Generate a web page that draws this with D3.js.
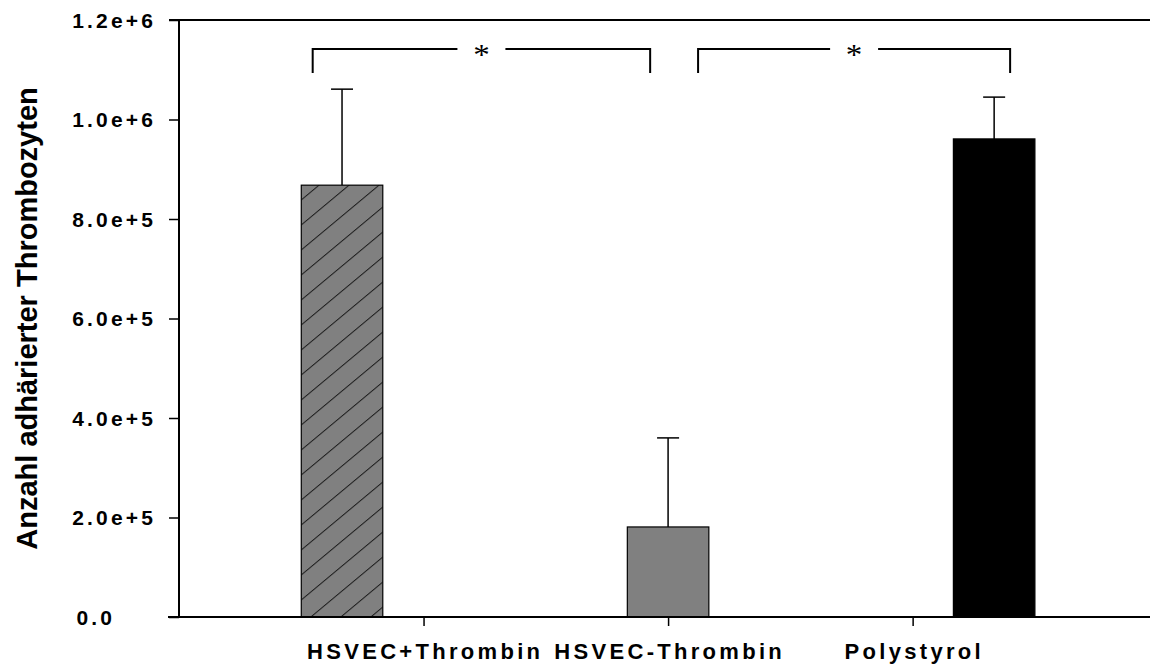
<!DOCTYPE html>
<html>
<head>
<meta charset="utf-8">
<script src="https://cdn.jsdelivr.net/npm/d3@7"></script>
<style>
  html, body { margin: 0; padding: 0; background: #fff; }
  text { font-family: "Liberation Sans", Arial, sans-serif; font-weight: bold; fill: #000; }
</style>
</head>
<body>
<div id="chart"></div>
<script>
// data
const categories = ["HSVEC+Thrombin", "HSVEC-Thrombin", "Polystyrol"];
const barPos = [1, 2, 3];
const labelPos = [1.25, 2, 2.75];
const means = [868000, 181000, 961000];
const errors = [193000, 179000, 84000];
const yTicks = [0, 200000, 400000, 600000, 800000, 1000000, 1200000];
const yTickLabels = ["0.0", "2.0e+5", "4.0e+5", "6.0e+5", "8.0e+5", "1.0e+6", "1.2e+6"];
// significance brackets: [from, to] in bar units, y of bar and of legs
const bracketFrom = [0.91, 2.092];
const bracketTo = [1.945, 3.049];
const bracketTop = [1141700, 1141700];
const bracketLeg = [1093400, 1093400];
const bracketLabel = ["*", "*"];

const barFills = ["url(#hatch)", "#808080", "#000000"];

const width = 1154, height = 665;
const svg = d3.select("#chart").append("svg")
    .attr("width", width)
    .attr("height", height);

const x = d3.scaleLinear().domain([0.5, 3.478]).range([179, 1150]);
const y = d3.scaleLinear().domain([0, 1200000]).range([617, 20]);
const barW = x(1.25) - x(1);

// hatch pattern for first bar
const defs = svg.append("defs");
const pat = defs.append("pattern")
    .attr("id", "hatch")
    .attr("patternUnits", "userSpaceOnUse")
    .attr("x", x(1) - barW / 2)
    .attr("y", 0)
    .attr("width", 30)
    .attr("height", 25);
pat.append("rect").attr("width", 30).attr("height", 25).attr("fill", "#808080");
pat.append("path")
    .attr("d", "M0,25L30,0M-3,2.5L3,-2.5M27,27.5L33,22.5")
    .attr("stroke", "#000")
    .attr("stroke-width", 1);

// error bars (only upper half drawn)
svg.selectAll("line.err")
    .data(means)
    .enter().append("line")
    .attr("class", "err")
    .attr("x1", (d, i) => x(barPos[i]))
    .attr("x2", (d, i) => x(barPos[i]))
    .attr("y1", d => y(d))
    .attr("y2", (d, i) => y(d + errors[i]))
    .attr("stroke", "#000")
    .attr("stroke-width", 1.5);

svg.selectAll("line.cap")
    .data(means)
    .enter().append("line")
    .attr("class", "cap")
    .attr("x1", (d, i) => x(barPos[i]) - 11)
    .attr("x2", (d, i) => x(barPos[i]) + 11)
    .attr("y1", (d, i) => y(d + errors[i]))
    .attr("y2", (d, i) => y(d + errors[i]))
    .attr("stroke", "#000")
    .attr("stroke-width", 1.5);

// bars
svg.selectAll("rect.bar")
    .data(means)
    .enter().append("rect")
    .attr("class", "bar")
    .attr("x", (d, i) => x(barPos[i]) - barW / 2)
    .attr("y", d => y(d))
    .attr("width", barW)
    .attr("height", d => y(0) - y(d))
    .attr("fill", (d, i) => barFills[i])
    .attr("stroke", "#000")
    .attr("stroke-width", 1.2);

// y axis
const yAxis = svg.append("g")
    .attr("transform", `translate(${x(0.5)},0)`)
    .call(d3.axisLeft(y).tickValues(yTicks).tickSize(10).tickFormat(""));
yAxis.select(".domain").attr("stroke-width", 2).attr("d", `M-10,${y(1200000)}H0V${y(0)}`);
yAxis.selectAll(".tick line").attr("stroke-width", 1.5);

// tick labels are spaced out in the original
const yLs = 3.2;
svg.selectAll("text.ylab")
    .data(yTicks)
    .enter().append("text")
    .attr("class", "ylab")
    .attr("x", d => (d === 0 ? 112 : 153) + yLs)
    .attr("y", d => y(d) + 7.5)
    .attr("text-anchor", "end")
    .style("font-size", "21px")
    .style("letter-spacing", yLs + "px")
    .text((d, i) => yTickLabels[i]);

// top frame line and x axis
svg.append("line")
    .attr("x1", x(0.5) - 10).attr("x2", x.range()[1])
    .attr("y1", y(1200000)).attr("y2", y(1200000))
    .attr("stroke", "#000").attr("stroke-width", 2);

const xAxis = svg.append("g")
    .attr("transform", `translate(0,${y(0)})`)
    .call(d3.axisBottom(x).tickValues(labelPos).tickSize(9).tickFormat(""));
xAxis.select(".domain").attr("stroke-width", 2).attr("d", `M${x(0.5) - 11},0H${x.range()[1]}`);
xAxis.selectAll(".tick line").attr("stroke-width", 1.5);

const xLs = 3.3;
svg.selectAll("text.xlab")
    .data(categories)
    .enter().append("text")
    .attr("class", "xlab")
    .attr("x", (d, i) => x(labelPos[i]) + xLs / 2)
    .attr("y", 659)
    .attr("text-anchor", "middle")
    .style("font-size", "22px")
    .style("letter-spacing", xLs + "px")
    .text(d => d);

// y axis title
svg.append("text")
    .attr("transform", `translate(37,${(y(0) + y(1200000)) / 2}) rotate(-90)`)
    .attr("text-anchor", "middle")
    .style("font-size", "29px")
    .text("Anzahl adhärierter Thrombozyten");

// significance brackets
bracketFrom.forEach((f, i) => {
    const x1 = x(f), x2 = x(bracketTo[i]);
    const yt = y(bracketTop[i]), yl = y(bracketLeg[i]);
    const mid = (x1 + x2) / 2;
    const gap = 24;
    svg.append("path")
        .attr("d", `M${x1},${yl}V${yt}H${mid - gap}M${mid + gap},${yt}H${x2}V${yl}`)
        .attr("fill", "none")
        .attr("stroke", "#000")
        .attr("stroke-width", 2);
    svg.append("text")
        .attr("transform", `translate(${mid},${yt + 15}) scale(1.1,1)`)
        .attr("text-anchor", "middle")
        .style("font-family", "'Liberation Serif', 'Times New Roman', serif")
        .style("font-weight", "normal")
        .style("font-size", "30px")
        .text(bracketLabel[i]);
});
</script>
</body>
</html>
